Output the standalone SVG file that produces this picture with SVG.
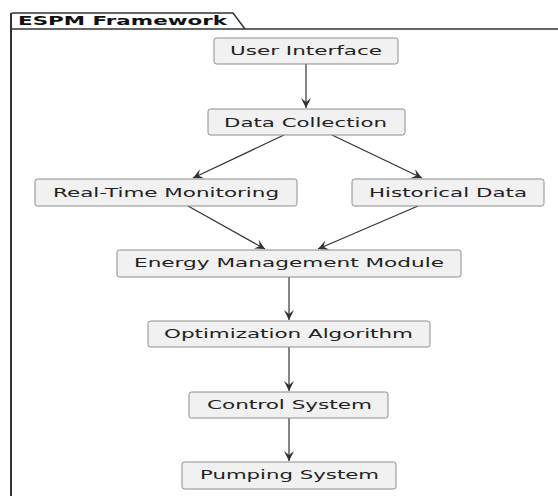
<svg xmlns="http://www.w3.org/2000/svg" width="558" height="496" viewBox="0 0 558 496">
  <style>
    .node rect { fill: #F1F1F1; stroke: #8c8c8c; stroke-width: 1; }
    .node text { font-family: "DejaVu Sans", "Liberation Sans", sans-serif; font-size: 12px; fill: #222; text-anchor: middle; }
    .edge { stroke: #333; stroke-width: 1.2; fill: none; marker-end: url(#arrow); }
    .frame { stroke: #333; fill: none; }
    .title { font-family: "DejaVu Sans", "Liberation Sans", sans-serif; font-weight: bold; font-size: 12.5px; fill: #111; }
  </style>
  <defs>
    <marker id="arrow" viewBox="0 0 10 10" refX="10" refY="5" markerWidth="10" markerHeight="10" markerUnits="userSpaceOnUse" orient="auto">
      <path d="M0,0 L10,5 L0,10 L4,5 Z" fill="#333"/>
    </marker>
  </defs>
  <rect width="558" height="496" fill="#fff"/>

  <g id="package">
    <path class="frame" d="M11,29 L11,15 Q11,13 13,13 L233,13 L245,29" stroke-width="1.5"/>
    <line class="frame" x1="11" y1="29" x2="558" y2="29" stroke="#666" stroke-width="1.5"/>
    <line class="frame" x1="11" y1="13" x2="11" y2="496" stroke-width="2"/>
    <text class="title" x="18" y="25" textLength="209" lengthAdjust="spacingAndGlyphs">ESPM Framework</text>
  </g>

  <g id="connectors">
    <line class="edge" x1="306" y1="64" x2="306" y2="108"/>
    <line class="edge" x1="284" y1="135" x2="193" y2="178"/>
    <line class="edge" x1="332" y1="135" x2="422" y2="178"/>
    <line class="edge" x1="188" y1="206" x2="265" y2="249"/>
    <line class="edge" x1="418" y1="206" x2="318" y2="249"/>
    <line class="edge" x1="289" y1="277" x2="289" y2="320"/>
    <line class="edge" x1="289" y1="347" x2="289" y2="391"/>
    <line class="edge" x1="289" y1="418" x2="289" y2="461"/>
  </g>

  <g id="user-interface" class="node">
    <rect x="214" y="38" width="184" height="26" rx="2.5"/>
    <text x="306" y="55" textLength="152" lengthAdjust="spacingAndGlyphs">User Interface</text>
  </g>
  <g id="data-collection" class="node">
    <rect x="208" y="109" width="197" height="26" rx="2.5"/>
    <text x="305.5" y="127" textLength="163" lengthAdjust="spacingAndGlyphs">Data Collection</text>
  </g>
  <g id="real-time-monitoring" class="node">
    <rect x="35" y="179" width="262" height="27" rx="2.5"/>
    <text x="166" y="197" textLength="226" lengthAdjust="spacingAndGlyphs">Real-Time Monitoring</text>
  </g>
  <g id="historical-data" class="node">
    <rect x="352" y="179" width="192" height="27" rx="2.5"/>
    <text x="448" y="197" textLength="158" lengthAdjust="spacingAndGlyphs">Historical Data</text>
  </g>
  <g id="energy-management-module" class="node">
    <rect x="117" y="250" width="344" height="27" rx="2.5"/>
    <text x="289" y="267" textLength="310" lengthAdjust="spacingAndGlyphs">Energy Management Module</text>
  </g>
  <g id="optimization-algorithm" class="node">
    <rect x="148" y="321" width="282" height="26" rx="2.5"/>
    <text x="288.5" y="338" textLength="249" lengthAdjust="spacingAndGlyphs">Optimization Algorithm</text>
  </g>
  <g id="control-system" class="node">
    <rect x="189" y="392" width="199" height="26" rx="2.5"/>
    <text x="289.5" y="409" textLength="165" lengthAdjust="spacingAndGlyphs">Control System</text>
  </g>
  <g id="pumping-system" class="node">
    <rect x="182" y="462" width="214" height="27" rx="2.5"/>
    <text x="289.5" y="479" textLength="179" lengthAdjust="spacingAndGlyphs">Pumping System</text>
  </g>
</svg>
